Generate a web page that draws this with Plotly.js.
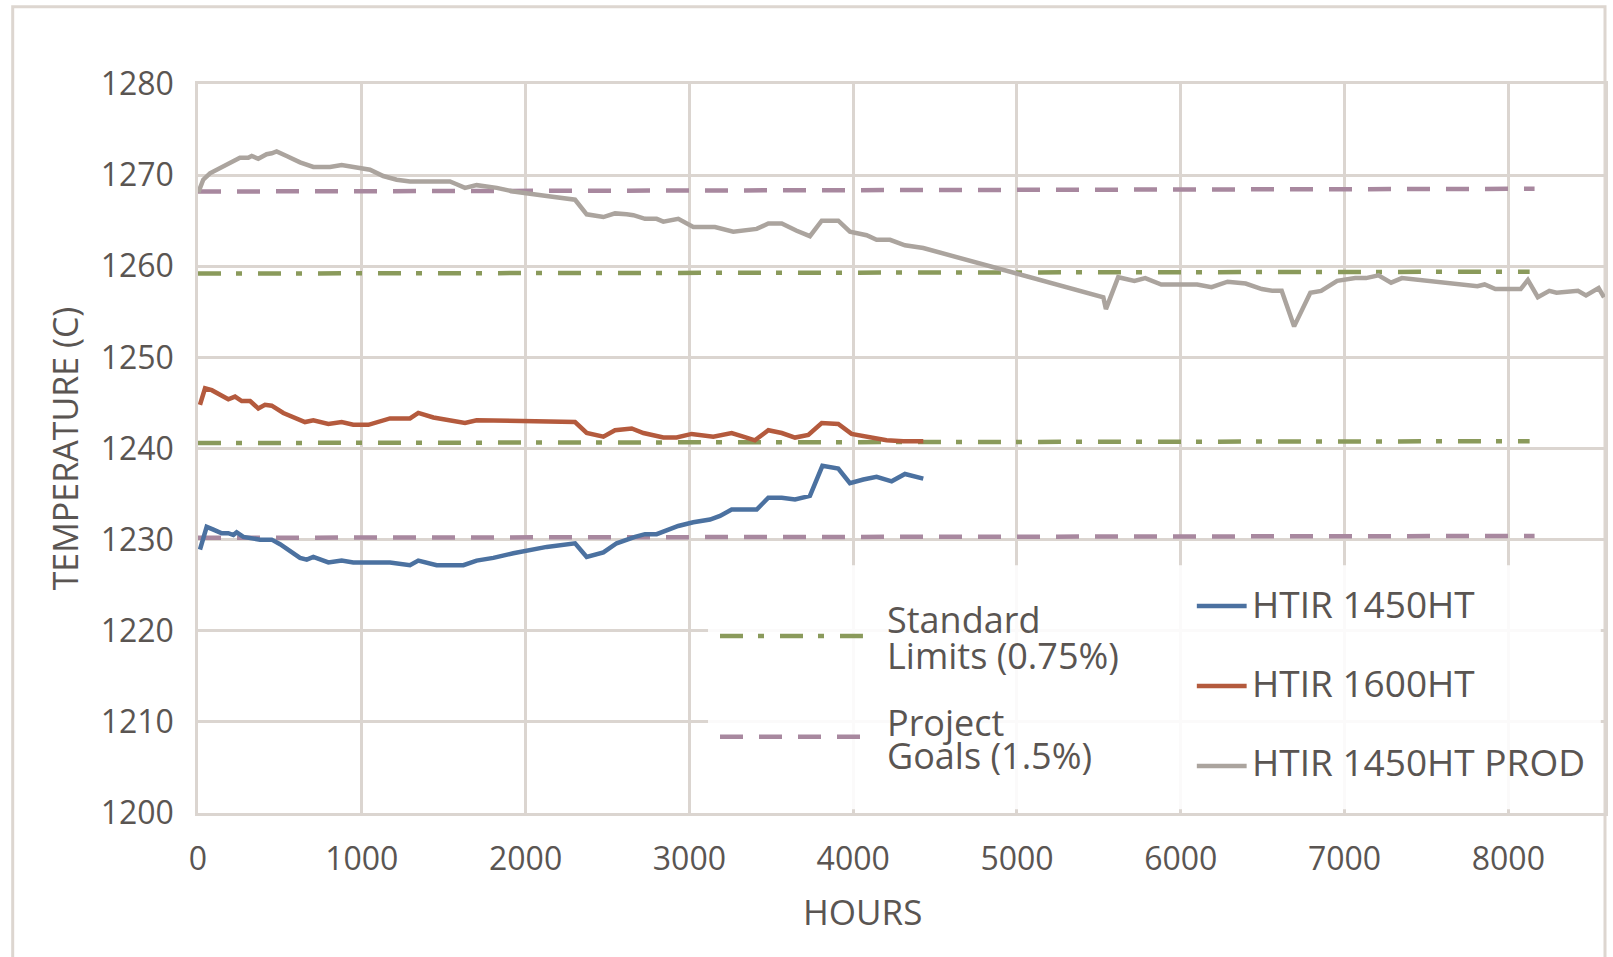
<!DOCTYPE html>
<html>
<head>
<meta charset="utf-8">
<script src="https://cdn.plot.ly/plotly-3.0.1.min.js"></script>
<style>
  html, body { margin: 0; padding: 0; background: #ffffff; }
  #chart { width: 1613px; height: 957px; }
</style>
</head>
<body>
<div id="chart"></div>
<script>
// ---- Series: sensor temperature (C) against operating hours ----
const htir1450Hours = [12, 53, 94, 145, 185, 216, 236, 277, 379, 450, 501, 572, 623, 664, 704, 796, 877, 948, 1172, 1294, 1345, 1457, 1620, 1701, 1803, 1925, 2129, 2302, 2373, 2475, 2556, 2668, 2729, 2800, 2932, 3024, 3126, 3187, 3258, 3411, 3482, 3564, 3645, 3736, 3812, 3909, 3980, 4062, 4143, 4235, 4316, 4428];
const htir1450Temps = [1228.9, 1231.4, 1231.1, 1230.7, 1230.7, 1230.5, 1230.8, 1230.3, 1230.0, 1230.0, 1229.5, 1228.7, 1228.0, 1227.8, 1228.1, 1227.5, 1227.7, 1227.5, 1227.5, 1227.2, 1227.7, 1227.2, 1227.2, 1227.7, 1228.0, 1228.5, 1229.2, 1229.6, 1228.1, 1228.6, 1229.6, 1230.3, 1230.6, 1230.6, 1231.5, 1231.9, 1232.2, 1232.6, 1233.3, 1233.3, 1234.6, 1234.6, 1234.4, 1234.8, 1238.1, 1237.8, 1236.2, 1236.6, 1236.9, 1236.4, 1237.2, 1236.7];

const htir1600Hours = [12, 43, 84, 134, 185, 226, 267, 318, 368, 409, 450, 521, 582, 653, 704, 796, 877, 948, 1040, 1111, 1172, 1294, 1345, 1437, 1518, 1630, 1701, 1986, 2302, 2373, 2475, 2546, 2648, 2719, 2841, 2922, 3014, 3146, 3258, 3329, 3400, 3482, 3564, 3645, 3726, 3808, 3909, 3990, 4062, 4133, 4204, 4306, 4428];
const htir1600Temps = [1244.8, 1246.6, 1246.4, 1245.9, 1245.4, 1245.7, 1245.2, 1245.2, 1244.4, 1244.8, 1244.7, 1243.9, 1243.4, 1242.9, 1243.1, 1242.7, 1242.9, 1242.6, 1242.6, 1243.0, 1243.3, 1243.3, 1243.9, 1243.4, 1243.1, 1242.8, 1243.1, 1243.0, 1242.9, 1241.7, 1241.3, 1242.0, 1242.2, 1241.7, 1241.2, 1241.2, 1241.6, 1241.3, 1241.7, 1241.3, 1240.9, 1242.0, 1241.7, 1241.2, 1241.5, 1242.8, 1242.7, 1241.6, 1241.4, 1241.2, 1240.9, 1240.8, 1240.8];

const htir1450ProdHours = [2, 32, 73, 134, 195, 256, 307, 328, 368, 419, 450, 480, 541, 623, 704, 806, 877, 1009, 1050, 1131, 1213, 1294, 1538, 1579, 1630, 1701, 1824, 1925, 2027, 2129, 2302, 2373, 2475, 2546, 2617, 2658, 2729, 2800, 2841, 2932, 3024, 3156, 3268, 3411, 3482, 3564, 3655, 3736, 3808, 3909, 3980, 4082, 4143, 4225, 4316, 4428, 5527, 5543, 5618, 5717, 5783, 5881, 6100, 6188, 6286, 6396, 6495, 6561, 6616, 6692, 6791, 6857, 6955, 7065, 7131, 7207, 7284, 7350, 7811, 7855, 7921, 8075, 8119, 8180, 8250, 8294, 8425, 8474, 8551, 8584];
const htir1450ProdTemps = [1268.1, 1269.5, 1270.2, 1270.8, 1271.3, 1271.9, 1271.9, 1272.1, 1271.8, 1272.3, 1272.4, 1272.6, 1272.1, 1271.4, 1270.9, 1270.9, 1271.1, 1270.7, 1270.6, 1269.9, 1269.5, 1269.3, 1269.3, 1269.0, 1268.6, 1268.9, 1268.6, 1268.2, 1268.0, 1267.7, 1267.3, 1265.7, 1265.4, 1265.8, 1265.7, 1265.6, 1265.2, 1265.2, 1264.9, 1265.2, 1264.3, 1264.3, 1263.8, 1264.1, 1264.7, 1264.7, 1263.9, 1263.3, 1265.0, 1265.0, 1263.8, 1263.4, 1262.9, 1262.9, 1262.3, 1262.0, 1256.6, 1255.3, 1258.8, 1258.4, 1258.7, 1258.0, 1258.0, 1257.7, 1258.3, 1258.1, 1257.5, 1257.3, 1257.3, 1253.4, 1257.1, 1257.3, 1258.4, 1258.7, 1258.7, 1259.0, 1258.2, 1258.7, 1257.8, 1258.0, 1257.5, 1257.5, 1258.5, 1256.6, 1257.3, 1257.1, 1257.3, 1256.8, 1257.6, 1256.6];

// ---- Reference bands: start / end of each limit line ----
const stdLimitHours = [0, 8130];
const stdLimitUpper = [1259.2, 1259.4];
const stdLimitLower = [1240.6, 1240.8];
const goalHours = [0, 8160];
const goalUpper = [1268.2, 1268.5];
const goalLower = [1230.2, 1230.4];

// ---- Axis ticks ----
const hourTicks = [0, 1000, 2000, 3000, 4000, 5000, 6000, 7000, 8000];
const tempTicks = [1200, 1210, 1220, 1230, 1240, 1250, 1260, 1270, 1280];

// ---- Legend entries ----
const bandLegend = [
  { lines: ['Standard', 'Limits (0.75%)'], color: '#8a9a5b', dash: '23px,15px,6px,16px' },
  { lines: ['Project', 'Goals (1.5%)'], color: '#a8889f', dash: '23px,16px' }
];
const seriesLegend = [
  { name: 'HTIR 1450HT', color: '#4b71a0' },
  { name: 'HTIR 1600HT', color: '#b45a3d' },
  { name: 'HTIR 1450HT PROD', color: '#aba49e' }
];

const FONT = 'Open Sans, Noto Sans, sans-serif';
const TEXT = '#5a5552';
const GRID = '#dbd5d0';
const LW = 4.5;

function line(x, y, color, dash, name) {
  return {
    type: 'scatter', mode: 'lines', x: x, y: y, name: name,
    line: { color: color, width: LW, dash: dash || 'solid' },
    showlegend: false, hoverinfo: 'skip'
  };
}

const traces = [
  line(goalHours, goalUpper, bandLegend[1].color, bandLegend[1].dash, 'Project Goals (1.5%)'),
  line(goalHours, goalLower, bandLegend[1].color, bandLegend[1].dash, 'Project Goals (1.5%)'),
  line(stdLimitHours, stdLimitUpper, bandLegend[0].color, bandLegend[0].dash, 'Standard Limits (0.75%)'),
  line(stdLimitHours, stdLimitLower, bandLegend[0].color, bandLegend[0].dash, 'Standard Limits (0.75%)'),
  line(htir1450ProdHours, htir1450ProdTemps, seriesLegend[2].color, null, seriesLegend[2].name),
  line(htir1600Hours, htir1600Temps, seriesLegend[1].color, null, seriesLegend[1].name),
  line(htir1450Hours, htir1450Temps, seriesLegend[0].color, null, seriesLegend[0].name)
];

const shapes = [
  // outer frame around the whole figure
  { type: 'rect', xref: 'paper', yref: 'paper', x0: -0.1317, x1: 1.0, y0: -0.21, y1: 1.106,
    fillcolor: 'rgba(0,0,0,0)', line: { color: '#ddd6d0', width: 3 }, layer: 'below' },
  // legend panel in the lower-right of the plot area, softening the grid behind it
  { type: 'rect', xref: 'paper', yref: 'paper', x0: 0.3625, x1: 0.997, y0: 0.005, y1: 0.34,
    fillcolor: 'rgba(255,255,255,0.88)', line: { width: 0 }, layer: 'above' }
];
const annotations = [];

const bandRows = [0.2428, 0.1047];
const bandText = [[0.266, 0.2158], [0.124, 0.079]];
bandLegend.forEach((b, i) => {
  shapes.push({ type: 'line', xref: 'paper', yref: 'paper', x0: 0.371, x1: 0.4726, y0: bandRows[i], y1: bandRows[i],
    line: { color: b.color, width: LW, dash: b.dash }, layer: 'above' });
  b.lines.forEach((t, j) => {
    annotations.push({ xref: 'paper', yref: 'paper', x: 0.4885, y: bandText[i][j], xanchor: 'left', yanchor: 'middle',
      text: t, showarrow: false, font: { family: FONT, size: 36, color: TEXT } });
  });
});

const seriesRows = [0.284, 0.1742, 0.0645];
const seriesText = [0.2875, 0.1795, 0.0708];
seriesLegend.forEach((s, i) => {
  shapes.push({ type: 'line', xref: 'paper', yref: 'paper', x0: 0.7099, x1: 0.7453, y0: seriesRows[i], y1: seriesRows[i],
    line: { color: s.color, width: LW }, layer: 'above' });
  annotations.push({ xref: 'paper', yref: 'paper', x: 0.7477, y: seriesText[i], xanchor: 'left', yanchor: 'middle',
    text: s.name, showarrow: false, font: { family: FONT, size: 37, color: TEXT } });
});

// x-axis caption
annotations.push({ xref: 'paper', yref: 'paper', x: 0.4724, y: -0.1358, xanchor: 'center', yanchor: 'middle',
  text: 'HOURS', showarrow: false, font: { family: FONT, size: 35, color: TEXT } });

const layout = {
  width: 1613, height: 957,
  margin: { l: 198, r: 8, t: 84, b: 144, pad: 0 },
  paper_bgcolor: '#ffffff', plot_bgcolor: '#ffffff',
  showlegend: false,
  font: { family: FONT, color: TEXT },
  xaxis: {
    range: [0, 8590], tickvals: hourTicks, ticktext: hourTicks.map(String),
    showgrid: true, gridcolor: GRID, gridwidth: 2.5, zeroline: false,
    showline: true, linecolor: GRID, linewidth: 2.5, mirror: true,
    ticks: '', ticklabelstandoff: 16,
    tickfont: { family: FONT, size: 32, color: TEXT }
  },
  yaxis: {
    range: [1200, 1280], tickvals: tempTicks, ticktext: tempTicks.map(String),
    showgrid: true, gridcolor: GRID, gridwidth: 2.5, zeroline: false,
    showline: true, linecolor: GRID, linewidth: 2.5, mirror: true,
    ticks: '', ticklabelstandoff: 15,
    tickfont: { family: FONT, size: 32, color: TEXT },
    title: { text: 'TEMPERATURE (C)', font: { family: FONT, size: 34, color: TEXT }, standoff: 12 }
  },
  shapes: shapes,
  annotations: annotations
};

Plotly.newPlot('chart', traces, layout, { displayModeBar: false, responsive: false });
</script>
</body>
</html>
